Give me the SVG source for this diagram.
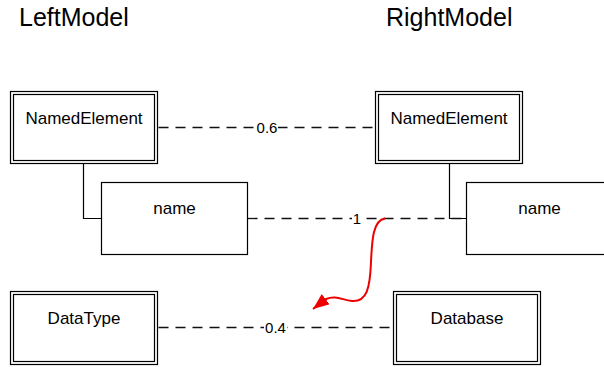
<svg xmlns="http://www.w3.org/2000/svg" width="604" height="367" viewBox="0 0 604 367">
  <style>
    .title { font-family: "Liberation Sans", Arial, sans-serif; font-size: 25px; fill: #000; }
    .box { fill: #fff; stroke: #000; stroke-width: 1.2; }
    .inner { fill: none; stroke: #000; stroke-width: 1.2; }
    .label { font-family: "Liberation Sans", Arial, sans-serif; font-size: 17px; fill: #000; text-anchor: middle; }
    .owner { fill: none; stroke: #000; stroke-width: 1.2; }
    .match { fill: none; stroke: #111; stroke-width: 1.3; stroke-dasharray: 10 7; }
    .score-bg { fill: #fff; }
    .score { font-family: "Liberation Sans", Arial, sans-serif; font-size: 15px; fill: #000; text-anchor: middle; }
    .edit { fill: none; stroke: #e00; stroke-width: 2; }
  </style>
  <defs>
    <marker id="redArrow" markerUnits="userSpaceOnUse" markerWidth="16" markerHeight="13" refX="16" refY="6.5" orient="auto">
      <path d="M0,0 L16,6.5 L0,13 Z" fill="#e00"/>
    </marker>
  </defs>

  <rect width="604" height="367" fill="#fff"/>

  <text class="title" x="19" y="26">LeftModel</text>
  <text class="title" x="386" y="26">RightModel</text>

  <!-- correspondence lines with their scores -->
  <g id="connectors">
    <path class="owner" d="M83.5,163.5 V218.5 H101.5"/>
    <path class="owner" d="M449.5,163.5 V218.5 H466.5"/>

    <line class="match" x1="158.5" y1="127.5" x2="375.5" y2="127.5"/>
    <rect class="score-bg" x="256" y="120" width="22" height="15"/>
    <text class="score" x="267" y="133">0.6</text>

    <line class="match" x1="247.5" y1="218.5" x2="466.5" y2="218.5"/>
    <rect class="score-bg" x="352" y="211" width="10" height="15"/>
    <text class="score" x="357" y="224">1</text>

    <line class="match" x1="158.5" y1="327.5" x2="393.5" y2="327.5"/>
    <rect class="score-bg" x="264" y="320" width="23" height="15"/>
    <text class="score" x="275.5" y="333">0.4</text>

    <path class="edit" d="M385,218.5 C373,220 372,240 371,262 C370,288 367,302 352,301 C342,300 336,295 326,299 L313,309" marker-end="url(#redArrow)"/>
  </g>

  <g id="left-namedelement">
    <rect class="box" x="10.5" y="91.5" width="147" height="72"/>
    <rect class="inner" x="13.5" y="94.5" width="141" height="66"/>
    <text class="label" x="84" y="124">NamedElement</text>
  </g>
  <g id="left-name">
    <rect class="box" x="101.5" y="182.5" width="146" height="72"/>
    <text class="label" x="174.5" y="214">name</text>
  </g>
  <g id="left-datatype">
    <rect class="box" x="10.5" y="291.5" width="147" height="73"/>
    <rect class="inner" x="13.5" y="294.5" width="141" height="67"/>
    <text class="label" x="84" y="324">DataType</text>
  </g>

  <g id="right-namedelement">
    <rect class="box" x="375.5" y="91.5" width="147" height="72"/>
    <rect class="inner" x="378.5" y="94.5" width="141" height="66"/>
    <text class="label" x="449" y="124">NamedElement</text>
  </g>
  <g id="right-name">
    <rect class="box" x="466.5" y="182.5" width="146" height="72"/>
    <text class="label" x="539.5" y="214">name</text>
  </g>
  <g id="right-database">
    <rect class="box" x="393.5" y="291.5" width="147" height="73"/>
    <rect class="inner" x="396.5" y="294.5" width="141" height="67"/>
    <text class="label" x="467" y="324">Database</text>
  </g>
</svg>
